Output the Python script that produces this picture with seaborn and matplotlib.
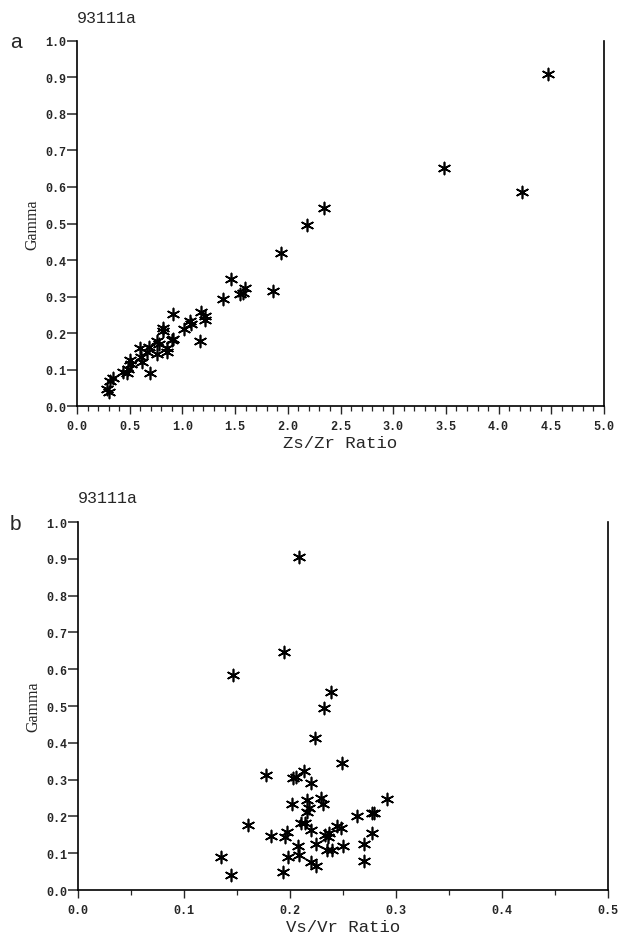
import numpy as np
import pandas as pd
import matplotlib
matplotlib.use("Agg")
import matplotlib.pyplot as plt
from matplotlib.ticker import MultipleLocator, FormatStrFormatter
import seaborn as sns

sns.set_style("ticks")

# Panel a: Gamma vs Zs/Zr ratio
zs_zr = [4.47, 3.48, 4.22, 2.34, 2.18, 1.935, 1.458, 1.597, 1.572, 1.547,
         1.863, 1.389, 0.914, 1.18, 1.217, 1.217, 1.072, 1.085, 1.015, 0.813,
         0.819, 0.908, 0.90, 1.167, 0.756, 0.781, 0.686, 0.598, 0.668, 0.762,
         0.857, 0.85, 0.607, 0.614, 0.503, 0.51, 0.487, 0.471, 0.693, 0.345,
         0.313, 0.282, 0.307, 0.44]
gamma_a = [0.909, 0.652, 0.586, 0.542, 0.495, 0.419, 0.348, 0.323, 0.310, 0.307,
           0.316, 0.293, 0.252, 0.257, 0.246, 0.237, 0.234, 0.225, 0.211, 0.214,
           0.205, 0.184, 0.180, 0.177, 0.179, 0.170, 0.163, 0.159, 0.149, 0.142,
           0.158, 0.149, 0.133, 0.120, 0.127, 0.115, 0.101, 0.090, 0.090, 0.076,
           0.069, 0.048, 0.039, 0.092]

# Panel b: Gamma vs Vs/Vr ratio
vs_vr = [0.209, 0.194, 0.146, 0.239, 0.232, 0.224, 0.249, 0.177, 0.203, 0.206,
         0.213, 0.220, 0.229, 0.231, 0.202, 0.216, 0.218, 0.216, 0.263, 0.277,
         0.279, 0.292, 0.160, 0.210, 0.214, 0.244, 0.248, 0.220, 0.237, 0.277,
         0.182, 0.195, 0.197, 0.236, 0.233, 0.208, 0.225, 0.235, 0.240, 0.250,
         0.270, 0.270, 0.135, 0.198, 0.2085, 0.220, 0.225, 0.144, 0.193]
gamma_b = [0.906, 0.648, 0.585, 0.538, 0.495, 0.414, 0.345, 0.313, 0.305, 0.307,
           0.323, 0.291, 0.250, 0.235, 0.235, 0.246, 0.224, 0.211, 0.200, 0.210,
           0.210, 0.247, 0.177, 0.181, 0.182, 0.175, 0.170, 0.164, 0.155, 0.155,
           0.148, 0.143, 0.158, 0.145, 0.150, 0.120, 0.125, 0.110, 0.110, 0.120,
           0.125, 0.078, 0.091, 0.091, 0.096, 0.076, 0.065, 0.042, 0.049]

df_a = pd.DataFrame({"Zs/Zr Ratio": zs_zr, "Gamma": gamma_a})
df_b = pd.DataFrame({"Vs/Vr Ratio": vs_vr, "Gamma": gamma_b})

mono = "Liberation Mono"
serif = "Liberation Serif"
asterisk = (6, 2, 0)

fig = plt.figure(figsize=(6.19, 9.37), dpi=100)
ax_a = fig.add_axes([0.1244, 0.5656, 0.8514, 0.3896])
ax_b = fig.add_axes([0.1260, 0.0490, 0.8560, 0.3928])

panels = [
    (ax_a, df_a, "Zs/Zr Ratio", 5.0, 0.5, 0.1, "a", 0.955),
    (ax_b, df_b, "Vs/Vr Ratio", 0.5, 0.1, 0.05, "b", 0.44),
]

for ax, df, xcol, xmax, xmaj, xmin, tag, top in panels:
    sns.scatterplot(data=df, x=xcol, y="Gamma", ax=ax, marker=asterisk,
                    color="black", s=75, linewidth=1.2, legend=False)
    ax.set_xlim(0, xmax)
    ax.set_ylim(0, 1.0)
    ax.xaxis.set_major_locator(MultipleLocator(xmaj))
    ax.xaxis.set_minor_locator(MultipleLocator(xmin))
    ax.yaxis.set_major_locator(MultipleLocator(0.1))
    ax.xaxis.set_major_formatter(FormatStrFormatter("%.1f"))
    ax.yaxis.set_major_formatter(FormatStrFormatter("%.1f"))
    ax.spines["top"].set_visible(False)
    for sp in ["left", "bottom", "right"]:
        ax.spines[sp].set_linewidth(1.2)
        ax.spines[sp].set_color("black")
    ax.tick_params(axis="y", which="major", direction="out", length=7, width=1.1, pad=1)
    ax.tick_params(axis="x", which="major", direction="out", length=6, width=1.0, pad=4)
    ax.tick_params(axis="x", which="minor", direction="out", length=3.5, width=0.9)
    for lbl in ax.get_xticklabels() + ax.get_yticklabels():
        lbl.set_fontfamily(mono)
        lbl.set_fontweight("bold")
        lbl.set_fontsize(8.5)
    ax.set_xlabel(xcol, fontfamily=mono, fontsize=12.5, labelpad=2)
    ax.set_ylabel("Gamma", fontfamily=serif, fontsize=11.5, labelpad=3)
    ax.text(0.0, 1.045, "93111a", transform=ax.transAxes, fontfamily=mono,
            fontsize=12, ha="left", va="bottom")
    fig.text(0.016, top, tag, fontfamily="Liberation Sans", fontsize=15,
             ha="left", va="center")

fig.savefig("out.png", dpi=100, facecolor="white")
